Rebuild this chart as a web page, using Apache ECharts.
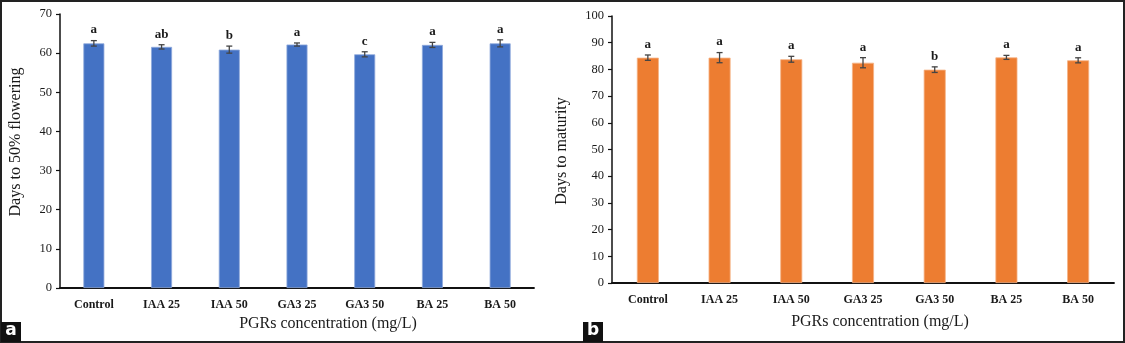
<!DOCTYPE html>
<html>
<head>
<meta charset="utf-8">
<script src="https://cdn.jsdelivr.net/npm/echarts@6/dist/echarts.min.js"></script>
<style>
  html, body { margin: 0; padding: 0; background: #fff; }
  #chart { width: 1125px; height: 343px; }
</style>
</head>
<body>
<div id="chart"></div>
<script>
// Treatments (plant growth regulators and their concentrations)
const categories = ['Control', 'IAA 25', 'IAA 50', 'GA3 25', 'GA3 50', 'BA 25', 'BA 50'];

// (a) Days to 50% flowering: means, standard errors, significance letters
const flowering = [62.5, 61.6, 60.9, 62.2, 59.7, 62.1, 62.5];
const floweringErr = [0.7, 0.55, 0.9, 0.4, 0.65, 0.65, 0.9];
const floweringLetters = ['a', 'ab', 'b', 'a', 'c', 'a', 'a'];

// (b) Days to maturity: means, standard errors, significance letters
const maturity = [84.4, 84.4, 83.8, 82.5, 79.9, 84.5, 83.4];
const maturityErr = [1.0, 1.9, 1.1, 1.9, 1.05, 0.75, 0.95];
const maturityLetters = ['a', 'a', 'a', 'a', 'b', 'a', 'a'];

// Axis tick settings
const floweringTicks = { min: 0, max: 70, interval: 10 };
const maturityTicks = { min: 0, max: 100, interval: 10 };

const SERIF = "'Liberation Serif', 'Times New Roman', serif";
const SANS = "'DejaVu Sans', 'Liberation Sans', Arial, sans-serif";

function valueAxis(gridIndex, ticks) {
  return {
    type: 'value', gridIndex,
    min: ticks.min, max: ticks.max, interval: ticks.interval,
    axisLine: { show: true, lineStyle: { color: '#111', width: 1.5 } },
    axisTick: { show: true, length: 4, lineStyle: { color: '#111', width: 1.2 } },
    axisLabel: { color: '#1a1a1a', fontFamily: SERIF, fontSize: 12.5, margin: 8 },
    splitLine: { show: false }
  };
}

function categoryAxis(gridIndex) {
  return {
    type: 'category', gridIndex, data: categories,
    axisLine: { show: true, lineStyle: { color: '#111', width: 1.8 } },
    axisTick: { show: false },
    axisLabel: { color: '#1a1a1a', fontFamily: SERIF, fontSize: 12, fontWeight: 'bold', margin: 11 }
  };
}

// Error bars with significance letters above them
function errorSeries(axisIndex, values, errs, letters) {
  return {
    type: 'custom',
    xAxisIndex: axisIndex, yAxisIndex: axisIndex,
    z: 10,
    data: values.map((v, i) => [i, v - errs[i], v + errs[i]]),
    renderItem(params, api) {
      const lo = api.coord([api.value(0), api.value(1)]);
      const hi = api.coord([api.value(0), api.value(2)]);
      const cap = 3;
      const st = { stroke: '#444', lineWidth: 1.3 };
      return {
        type: 'group',
        children: [
          { type: 'line', shape: { x1: lo[0], y1: lo[1], x2: hi[0], y2: hi[1] }, style: st },
          { type: 'line', shape: { x1: hi[0] - cap, y1: hi[1], x2: hi[0] + cap, y2: hi[1] }, style: st },
          { type: 'line', shape: { x1: lo[0] - cap, y1: lo[1], x2: lo[0] + cap, y2: lo[1] }, style: st },
          {
            type: 'text', x: hi[0], y: hi[1] - 4,
            style: {
              text: letters[params.dataIndex], fill: '#1a1a1a',
              font: 'bold 13px ' + SERIF, align: 'center', verticalAlign: 'bottom'
            }
          }
        ]
      };
    }
  };
}

const chart = echarts.init(document.getElementById('chart'), null, { renderer: 'canvas' });

chart.setOption({
  animation: false,
  backgroundColor: '#fff',
  grid: [
    { left: 60, right: 591, top: 14, bottom: 55 },
    { left: 612, right: 11, top: 16, bottom: 60 }
  ],
  xAxis: [categoryAxis(0), categoryAxis(1)],
  yAxis: [valueAxis(0, floweringTicks), valueAxis(1, maturityTicks)],
  series: [
    {
      type: 'bar', xAxisIndex: 0, yAxisIndex: 0, data: flowering, barWidth: 21,
      itemStyle: { color: '#4472C4', borderColor: '#8fa9dc', borderWidth: 0.8 }
    },
    errorSeries(0, flowering, floweringErr, floweringLetters),
    {
      type: 'bar', xAxisIndex: 1, yAxisIndex: 1, data: maturity, barWidth: 22,
      itemStyle: { color: '#ED7D31', borderColor: '#f5b285', borderWidth: 0.8 }
    },
    errorSeries(1, maturity, maturityErr, maturityLetters)
  ],
  graphic: [
    // outer frame
    { type: 'rect', shape: { x: 1, y: 1, width: 1123, height: 341 },
      style: { fill: null, stroke: '#222', lineWidth: 2 }, z: 100 },
    // axis titles
    { type: 'text', x: 16, y: 142, rotation: Math.PI / 2,
      style: { text: 'Days to 50% flowering', font: '16px ' + SERIF, fill: '#1a1a1a', align: 'center', verticalAlign: 'middle' } },
    { type: 'text', x: 328, y: 324,
      style: { text: 'PGRs concentration (mg/L)', font: '16px ' + SERIF, fill: '#1a1a1a', align: 'center', verticalAlign: 'middle' } },
    { type: 'text', x: 562, y: 151, rotation: Math.PI / 2,
      style: { text: 'Days to maturity', font: '16px ' + SERIF, fill: '#1a1a1a', align: 'center', verticalAlign: 'middle' } },
    { type: 'text', x: 880, y: 322,
      style: { text: 'PGRs concentration (mg/L)', font: '16px ' + SERIF, fill: '#1a1a1a', align: 'center', verticalAlign: 'middle' } },
    // panel tags
    { type: 'rect', shape: { x: 1, y: 322, width: 20, height: 20 }, style: { fill: '#111' }, z: 101 },
    { type: 'text', x: 11, y: 331, z: 102,
      style: { text: 'a', font: 'bold 17px ' + SANS, fill: '#fff', align: 'center', verticalAlign: 'middle' } },
    { type: 'rect', shape: { x: 583, y: 322, width: 20, height: 20 }, style: { fill: '#111' }, z: 101 },
    { type: 'text', x: 593, y: 331, z: 102,
      style: { text: 'b', font: 'bold 17px ' + SANS, fill: '#fff', align: 'center', verticalAlign: 'middle' } }
  ]
});
</script>
</body>
</html>
